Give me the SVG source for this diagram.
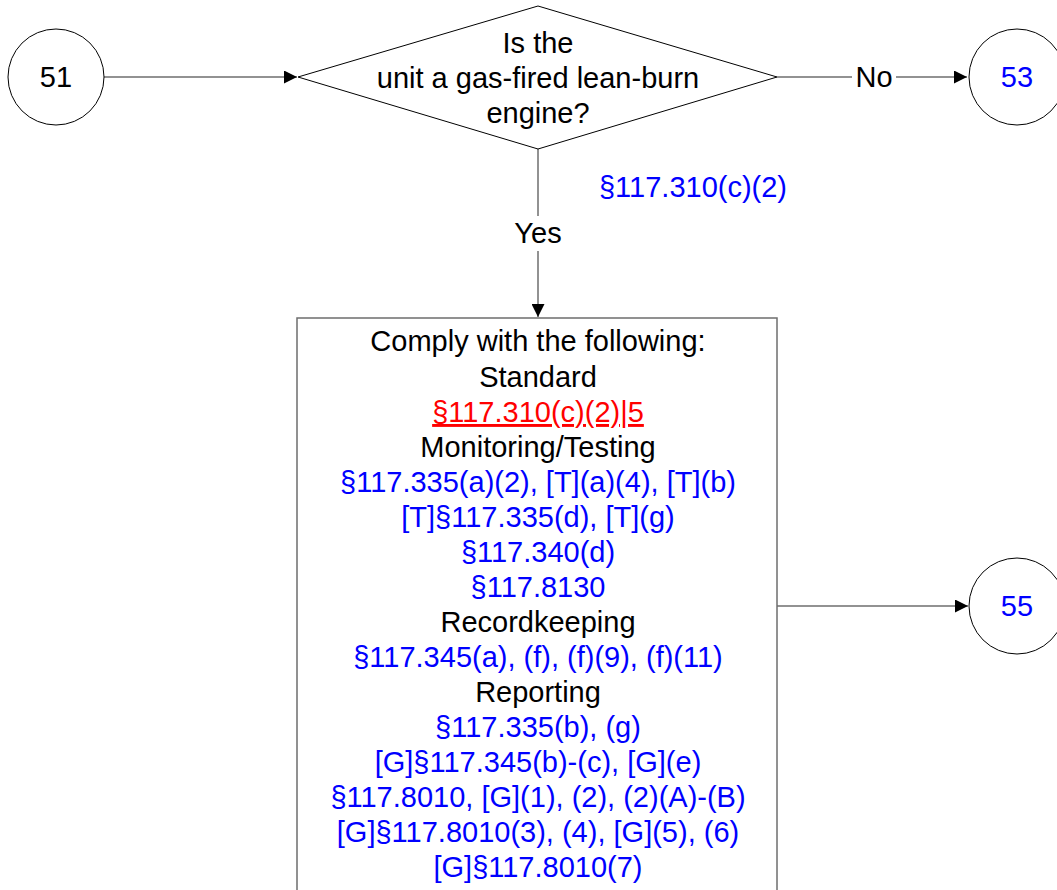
<svg xmlns="http://www.w3.org/2000/svg" width="1057" height="890" viewBox="0 0 1057 890">
<style>
text{font-family:"Liberation Sans",Arial,sans-serif;font-size:29px;text-anchor:middle}
.k{fill:#000}.b{fill:#0000ff}.r{fill:#ff0000;text-decoration:underline}
.shape{fill:#fff;stroke:#000;stroke-width:1}
.box{fill:#fff;stroke:#6e6e6e;stroke-width:1.5}
.conn{fill:none;stroke:#6e6e6e;stroke-width:1.5}
</style>
<defs>
<marker id="ah" viewBox="0 0 10 10" refX="10" refY="5" markerWidth="13" markerHeight="13" markerUnits="userSpaceOnUse" orient="auto"><path d="M0,0L10,5L0,10z" fill="#000"/></marker>
</defs>
<g id="connectors">
<line class="conn" x1="104" y1="77" x2="297" y2="77" marker-end="url(#ah)"/>
<line class="conn" x1="777" y1="77" x2="967" y2="77" marker-end="url(#ah)"/>
<line class="conn" x1="538" y1="149" x2="538" y2="317" marker-end="url(#ah)"/>
<line class="conn" x1="777" y1="606" x2="968" y2="606" marker-end="url(#ah)"/>
<rect x="852" y="62" width="44" height="30" fill="#fff"/>
<text class="k" x="874" y="87">No</text>
<rect x="510" y="216" width="56" height="35" fill="#fff"/>
<text class="k" x="538" y="243">Yes</text>
<text class="b" x="693" y="197">§117.310(c)(2)</text>
</g>
<g id="n51">
<circle class="shape" cx="56" cy="77" r="48"/>
<text class="k" x="56" y="87">51</text>
</g>
<g id="decision">
<polygon class="shape" points="298,77 538,6 777,77 538,149"/>
<text class="k" x="538" y="53">Is the</text>
<text class="k" x="538" y="88">unit a gas-fired lean-burn</text>
<text class="k" x="538" y="123">engine?</text>
</g>
<g id="n53">
<circle class="shape" cx="1017" cy="77" r="48"/>
<text class="b" x="1017" y="87">53</text>
</g>
<g id="n55">
<circle class="shape" cx="1017" cy="606" r="48"/>
<text class="b" x="1017" y="616">55</text>
</g>
<g id="comply">
<rect class="box" x="297" y="318" width="480" height="600"/>
<text class="k" x="538" y="351">Comply with the following:</text>
<text class="k" x="538" y="387">Standard</text>
<text class="r" x="538" y="422">§117.310(c)(2)|5</text>
<text class="k" x="538" y="457">Monitoring/Testing</text>
<text class="b" x="538" y="492">§117.335(a)(2), [T](a)(4), [T](b)</text>
<text class="b" x="538" y="527">[T]§117.335(d), [T](g)</text>
<text class="b" x="538" y="562">§117.340(d)</text>
<text class="b" x="538" y="597">§117.8130</text>
<text class="k" x="538" y="632">Recordkeeping</text>
<text class="b" x="538" y="667">§117.345(a), (f), (f)(9), (f)(11)</text>
<text class="k" x="538" y="702">Reporting</text>
<text class="b" x="538" y="737">§117.335(b), (g)</text>
<text class="b" x="538" y="772">[G]§117.345(b)-(c), [G](e)</text>
<text class="b" x="538" y="807">§117.8010, [G](1), (2), (2)(A)-(B)</text>
<text class="b" x="538" y="842">[G]§117.8010(3), (4), [G](5), (6)</text>
<text class="b" x="538" y="877">[G]§117.8010(7)</text>
</g>
</svg>
